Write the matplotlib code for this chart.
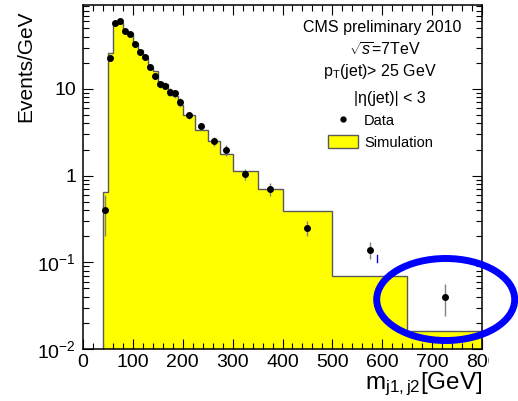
import matplotlib.pyplot as plt
from matplotlib.patches import Ellipse, Patch, Rectangle
from matplotlib.lines import Line2D
from matplotlib.ticker import FixedLocator, FixedFormatter, LogLocator, MultipleLocator, NullFormatter

plt.rcParams['font.family'] = ['Liberation Sans', 'DejaVu Sans']
plt.rcParams['mathtext.fontset'] = 'custom'
plt.rcParams['mathtext.rm'] = 'Liberation Sans'
plt.rcParams['mathtext.it'] = 'Liberation Sans:italic'

# simulated dijet mass spectrum (Events/GeV per bin)
bin_edges = [40, 50, 60, 70, 80, 90, 100, 110, 120, 130, 140, 150, 160, 170,
             180, 190, 200, 225, 250, 275, 300, 350, 400, 500, 650, 800]
sim_values = [0.65, 26, 56, 58, 46, 44, 33, 28, 23, 18, 16, 12, 11.5, 8.6,
              8.4, 6.5, 5.0, 3.4, 2.5, 1.78, 1.13, 0.70, 0.39, 0.070, 0.0162]

# measured points
data_mass = [44, 55, 65, 75, 85, 95, 105, 115, 125, 135, 145, 155, 165, 175,
             185, 195, 212.5, 237.5, 262.5, 287.5, 325, 375, 450, 575, 725]
data_values = [0.40, 22.6, 57, 60, 46.7, 43, 32.7, 26.9, 23.6, 17.8, 14.1, 11.4,
               10.9, 9.3, 8.9, 7.0, 5.0, 3.7, 2.5, 1.98, 1.04, 0.70, 0.25, 0.14, 0.04]
data_errors = [0.20, 1.5, 2.4, 2.45, 2.16, 2.07, 1.81, 1.64, 1.54, 1.33, 1.19, 1.07,
               1.04, 0.96, 0.94, 0.84, 0.45, 0.38, 0.32, 0.28, 0.144, 0.118, 0.05, 0.03, 0.016]

y_ticks = [1e-2, 1e-1, 1, 10]
y_tick_labels = ['$10^{-2}$', '$10^{-1}$', '1', '10']

fig = plt.figure(figsize=(5.18, 4.01), dpi=100)
ax = fig.add_axes([83 / 518, 52 / 401, 399 / 518, 344 / 401])

ax.stairs(sim_values, bin_edges, baseline=1e-3, fill=True, color='#ffff00', lw=0, zorder=1)
ax.stairs(sim_values, bin_edges, baseline=1e-3, color='#5a5a5a', lw=1, zorder=2)
ax.errorbar(data_mass, data_values, yerr=data_errors, fmt='o', color='black', ms=4.0,
            ecolor='#808080', elinewidth=1, capsize=0, zorder=3)

ax.set_yscale('log')
ax.set_xlim(0, 800)
ax.set_ylim(0.01, 93)

ax.xaxis.set_major_locator(MultipleLocator(100))
ax.xaxis.set_minor_locator(MultipleLocator(20))
ax.yaxis.set_major_locator(FixedLocator(y_ticks))
ax.yaxis.set_major_formatter(FixedFormatter(y_tick_labels))
ax.yaxis.set_minor_locator(LogLocator(subs=range(2, 10)))
ax.yaxis.set_minor_formatter(NullFormatter())
ax.tick_params(which='both', direction='in', top=True, right=True, labelsize=14, width=0.8)
ax.tick_params(which='major', length=7, pad=5)
ax.tick_params(axis='x', which='major', pad=3.5)
ax.tick_params(which='minor', length=4)
for sp in ax.spines.values():
    sp.set_linewidth(1.1)

ax.set_ylabel('Events/GeV', fontsize=15, loc='top')
ax.yaxis.set_label_coords(-0.12, 0.985)
ax.set_xlabel(r'm$_{\rm j1,j2}$[GeV]', fontsize=17.5, loc='right')
ax.xaxis.set_label_coords(1.0, -0.064)

ax.text(0.7506, 0.9215, 'CMS preliminary 2010', transform=ax.transAxes, ha='center', fontsize=11.5)
ax.text(0.757, 0.8517, r'$\sqrt{s}$=7TeV', transform=ax.transAxes, ha='center', fontsize=11.5)
ax.text(0.744, 0.7936, r'p$_{\rm T}$(jet)> 25 GeV', transform=ax.transAxes, ha='center', fontsize=11.5)
ax.text(0.768, 0.7151, '|η(jet)| < 3', transform=ax.transAxes, ha='center', fontsize=11.5)

handles = [Line2D([], [], ls='none', marker='o', color='black', ms=3.5),
           Patch(facecolor='#ffff00', edgecolor='#5a5a5a', lw=1)]
ax.legend(handles, ['Data', 'Simulation'], loc='upper left',
          bbox_to_anchor=(328 / 518, 1 - 113.5 / 401), bbox_transform=fig.transFigure,
          frameon=False, fontsize=10.5, borderpad=0, borderaxespad=0,
          handlelength=2.06, handleheight=1.03, handletextpad=0.41, labelspacing=0.48)

# cut-off corner of the last x label
fig.add_artist(Rectangle((489 / 518, 0), 29 / 518, 50 / 401, transform=fig.transFigure,
                         facecolor='white', edgecolor='none', zorder=5))
# highlight of the high-mass tail
fig.add_artist(Ellipse((445.7 / 518, 1 - 299.5 / 401), 138 / 518, 82 / 401,
                       transform=fig.transFigure, fill=False, ec='#0000ff', lw=5, zorder=6))
fig.add_artist(Line2D([377 / 518, 377 / 518], [1 - 255 / 401, 1 - 262 / 401],
                      transform=fig.transFigure, color='#0000ff', lw=1, zorder=6))

fig.savefig('out.png', dpi=100)
